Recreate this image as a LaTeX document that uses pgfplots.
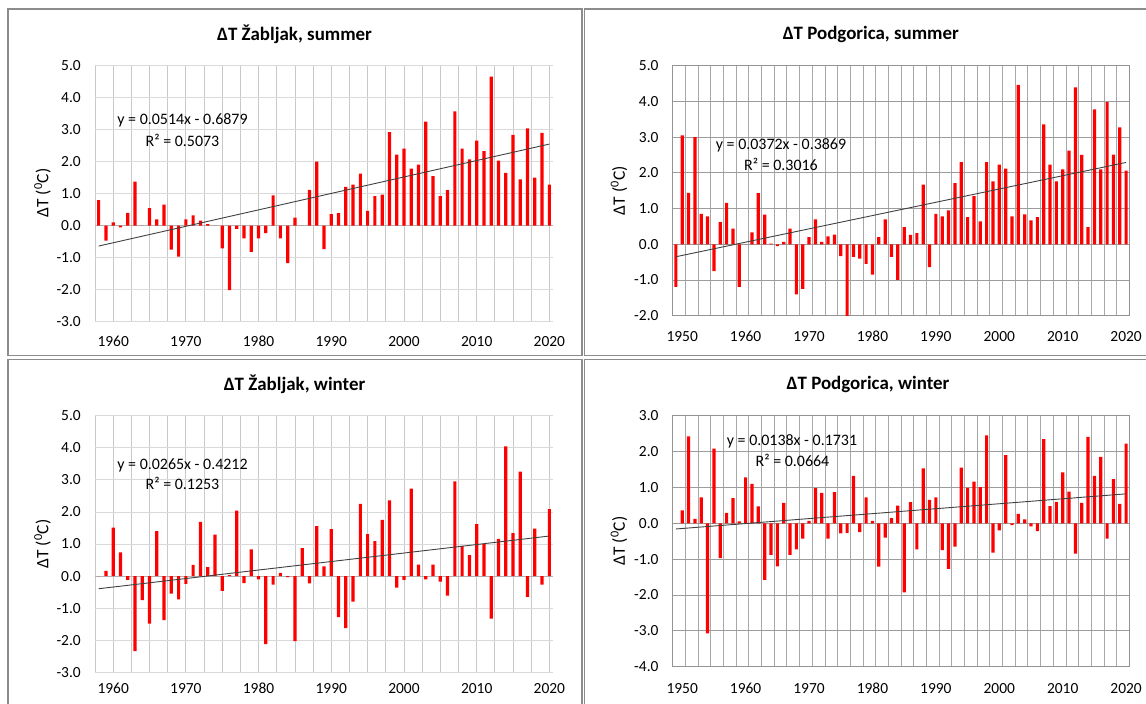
\documentclass[border=0pt]{standalone}
\usepackage{pgfplots}
\pgfplotsset{compat=1.18}
\usepackage{pgfplotstable}
\usepackage{fontspec}
\setmainfont{Carlito}

\pgfplotstableread{
year dt
1958 0.80
1959 -0.47
1960 0.10
1961 -0.05
1962 0.40
1963 1.38
1964 0.00
1965 0.55
1966 0.20
1967 0.66
1968 -0.75
1969 -0.97
1970 0.20
1971 0.32
1972 0.16
1973 0.05
1974 0.00
1975 -0.71
1976 -2.01
1977 -0.10
1978 -0.40
1979 -0.82
1980 -0.40
1981 -0.23
1982 0.95
1983 -0.40
1984 -1.17
1985 0.25
1986 0.00
1987 1.12
1988 2.00
1989 -0.73
1990 0.36
1991 0.39
1992 1.21
1993 1.28
1994 1.63
1995 0.46
1996 0.92
1997 0.97
1998 2.92
1999 2.22
2000 2.41
2001 1.78
2002 1.91
2003 3.25
2004 1.55
2005 0.92
2006 1.11
2007 3.57
2008 2.41
2009 2.07
2010 2.66
2011 2.33
2012 4.66
2013 2.03
2014 1.65
2015 2.84
2016 1.45
2017 3.04
2018 1.50
2019 2.90
2020 1.28
}\zabsummer

\pgfplotstableread{
year dt
1949 -1.19
1950 3.05
1951 1.44
1952 3.00
1953 0.85
1954 0.78
1955 -0.75
1956 0.62
1957 1.16
1958 0.44
1959 -1.19
1960 0.00
1961 0.33
1962 1.43
1963 0.83
1964 0.02
1965 -0.05
1966 0.07
1967 0.44
1968 -1.40
1969 -1.25
1970 0.20
1971 0.70
1972 0.07
1973 0.22
1974 0.27
1975 -0.33
1976 -2.05
1977 -0.35
1978 -0.40
1979 -0.55
1980 -0.85
1981 0.20
1982 0.70
1983 -0.35
1984 -1.00
1985 0.48
1986 0.26
1987 0.31
1988 1.67
1989 -0.64
1990 0.85
1991 0.78
1992 0.95
1993 1.71
1994 2.30
1995 0.76
1996 1.35
1997 0.64
1998 2.30
1999 1.76
2000 2.23
2001 2.12
2002 0.78
2003 4.46
2004 0.84
2005 0.67
2006 0.76
2007 3.36
2008 2.23
2009 1.76
2010 2.10
2011 2.62
2012 4.39
2013 2.50
2014 0.48
2015 3.78
2016 2.10
2017 3.98
2018 2.51
2019 3.27
2020 2.06
}\podsummer

\pgfplotstableread{
year dt
1958 0.00
1959 0.16
1960 1.51
1961 0.74
1962 -0.12
1963 -2.34
1964 -0.75
1965 -1.48
1966 1.40
1967 -1.37
1968 -0.55
1969 -0.73
1970 -0.24
1971 0.35
1972 1.69
1973 0.28
1974 1.29
1975 -0.46
1976 0.03
1977 2.04
1978 -0.22
1979 0.83
1980 -0.10
1981 -2.12
1982 -0.27
1983 0.10
1984 -0.03
1985 -2.03
1986 0.87
1987 -0.23
1988 1.56
1989 0.30
1990 1.46
1991 -1.28
1992 -1.62
1993 -0.80
1994 2.25
1995 1.31
1996 1.09
1997 1.75
1998 2.36
1999 -0.36
2000 -0.12
2001 2.73
2002 0.36
2003 -0.10
2004 0.36
2005 -0.17
2006 -0.61
2007 2.95
2008 0.94
2009 0.65
2010 1.62
2011 1.00
2012 -1.33
2013 1.16
2014 4.04
2015 1.34
2016 3.26
2017 -0.65
2018 1.48
2019 -0.27
2020 2.09
}\zabwinter

\pgfplotstableread{
year dt
1949 0.00
1950 0.36
1951 2.42
1952 0.12
1953 0.72
1954 -3.07
1955 2.08
1956 -0.97
1957 0.29
1958 0.70
1959 0.05
1960 1.28
1961 1.10
1962 0.47
1963 -1.58
1964 -0.88
1965 -1.20
1966 0.57
1967 -0.88
1968 -0.73
1969 -0.43
1970 0.07
1971 0.98
1972 0.85
1973 -0.43
1974 0.87
1975 -0.28
1976 -0.27
1977 1.32
1978 -0.25
1979 0.72
1980 0.07
1981 -1.21
1982 -0.40
1983 0.14
1984 0.49
1985 -1.93
1986 0.59
1987 -0.73
1988 1.53
1989 0.65
1990 0.72
1991 -0.75
1992 -1.27
1993 -0.65
1994 1.55
1995 0.99
1996 1.16
1997 1.01
1998 2.45
1999 -0.82
2000 -0.20
2001 1.90
2002 -0.05
2003 0.26
2004 0.11
2005 -0.09
2006 -0.22
2007 2.35
2008 0.48
2009 0.60
2010 1.42
2011 0.88
2012 -0.85
2013 0.57
2014 2.41
2015 1.32
2016 1.85
2017 -0.43
2018 1.23
2019 0.54
2020 2.22
}\podwinter

\pgfplotsset{
  common/.style={
    scale only axis, anchor=south west, clip=true,
    major tick length=0pt, minor tick length=0pt,
    tick label style={font=\fontsize{15.5}{18}\selectfont},
    /pgf/number format/assume math mode=true,
    yticklabel style={anchor=east, inner sep=0pt, xshift=-14bp,
      /pgf/number format/fixed, /pgf/number format/fixed zerofill,
      /pgf/number format/precision=1},
    xticklabel style={anchor=center, inner sep=0pt, /pgf/number format/1000 sep={}},
    ymajorgrids, xminorgrids, xmajorgrids=false,
  },
  zab/.style={common,
    axis line style={draw=none},
    xmin=1957.5, xmax=2020.5, ymin=-3, ymax=5, ytick={-3,-2,...,5},
    xtick={1960,1970,...,2020}, minor xtick={1957.5,1960,...,2020},
    major grid style={draw=gray!30, line width=0.8bp},
    minor grid style={draw=gray!42, line width=0.8bp},
    extra y ticks={0}, extra y tick labels={\empty},
    extra y tick style={grid=major, major grid style={draw=gray!60, line width=0.9bp}},
  },
  pod/.style={common,
    axis line style={draw=gray!85, line width=0.9bp},
    xmin=1948.5, xmax=2020.5,
    xtick={1950,1960,...,2020}, minor xtick={1948.5,1950.5,...,2020.5},
    major grid style={draw=gray!78, line width=0.8bp},
    minor grid style={draw=gray!68, line width=0.8bp},
  },
  bars/.style={ybar, bar width=3.2bp, bar shift=0pt, fill=red, draw=none},
  trend/.style={sharp plot, draw=black!75, line width=0.9bp, mark=none},
}

\begin{document}
\begin{tikzpicture}[x=1bp,y=1bp]
\path[use as bounding box] (0,0) rectangle (1146,704);

% chart area borders
\draw[gray!90, line width=1.5bp] (8,695) rectangle (582,348.3);
\draw[gray!90, line width=1.5bp] (584.7,695) rectangle (1152,348.3);
\draw[gray!90, line width=1.5bp] (8,344.3) rectangle (582,-8);
\draw[gray!90, line width=1.5bp] (584.7,344.3) rectangle (1152,-8);

% Zabljak summer
\begin{axis}[zab, at={(95bp,382.3bp)}, width=458bp, height=256bp,
  xticklabel style={yshift=-20bp}]
\addplot[bars] table[x=year,y=dt]{\zabsummer};
\addplot[trend] coordinates {(1958,-0.6365) (2020,2.5503)};
\end{axis}

% Podgorica summer
\begin{axis}[pod, at={(672.7bp,388.3bp)}, width=456.6bp, height=250bp,
  ymin=-2, ymax=5, ytick={-2,-1,...,5}, xticklabel style={yshift=-21bp}]
\addplot[bars] table[x=year,y=dt]{\podsummer};
\addplot[trend] coordinates {(1949,-0.3497) (2020,2.2915)};
\end{axis}

% Zabljak winter
\begin{axis}[zab, at={(95bp,31.7bp)}, width=458bp, height=256.6bp,
  xticklabel style={yshift=-16bp}]
\addplot[bars] table[x=year,y=dt]{\zabwinter};
\addplot[trend] coordinates {(1958,-0.3947) (2020,1.2483)};
\end{axis}

% Podgorica winter
\begin{axis}[pod, at={(672.7bp,37.3bp)}, width=456.6bp, height=251bp,
  ymin=-4, ymax=3, ytick={-4,-3,...,3}, xticklabel style={yshift=-21.5bp}]
\addplot[bars] table[x=year,y=dt]{\podwinter};
\addplot[trend] coordinates {(1949,-0.1593) (2020,0.8205)};
\end{axis}

% titles
\begin{scope}[every node/.style={font=\bfseries\fontsize{19}{22}\selectfont, inner sep=0pt}]
\node at (294.5,670) {ΔT Žabljak, summer};
\node at (870.8,670) {ΔT Podgorica, summer};
\node at (294.5,320) {ΔT Žabljak, winter};
\node at (868,320) {ΔT Podgorica, winter};
\end{scope}

% y labels
\begin{scope}[every node/.style={font=\fontsize{17.5}{20}\selectfont, inner sep=0pt, rotate=90}]
\node at (42.5,511) {ΔT (\textsuperscript{0}C)};
\node at (619,513.3) {ΔT (\textsuperscript{0}C)};
\node at (42.5,160) {ΔT (\textsuperscript{0}C)};
\node at (619,163) {ΔT (\textsuperscript{0}C)};
\end{scope}

% trend equations
\begin{scope}[every node/.style={font=\fontsize{16}{19}\selectfont, inner sep=0pt}]
\node at (182.5,583.3) {y = 0.0514x - 0.6879};
\node at (182.5,564) {R² = 0.5073};
\node at (781,559) {y = 0.0372x - 0.3869};
\node at (781,540) {R² = 0.3016};
\node at (182.5,239) {y = 0.0265x - 0.4212};
\node at (182.5,220.3) {R² = 0.1253};
\node at (792,262.3) {y = 0.0138x - 0.1731};
\node at (792.5,243.7) {R² = 0.0664};
\end{scope}
\end{tikzpicture}
\end{document}
